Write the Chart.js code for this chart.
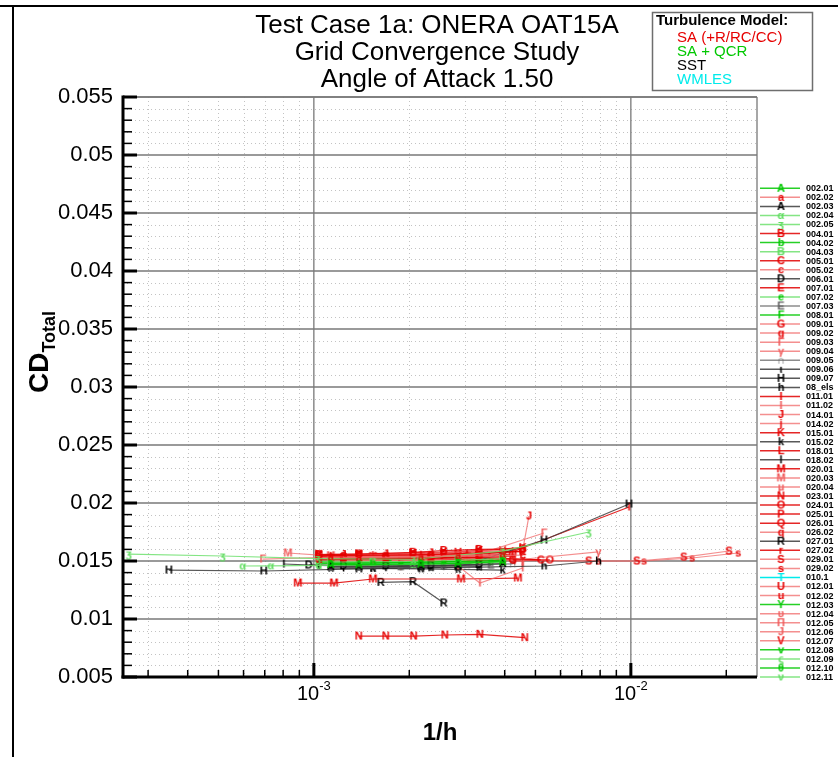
<!DOCTYPE html>
<html>
<head>
<meta charset="utf-8">
<title>Test Case 1a: ONERA OAT15A</title>
<script src="https://cdn.jsdelivr.net/npm/chart.js@4.4.1/dist/chart.umd.min.js"></script>
<style>
  html, body { margin: 0; padding: 0; background: #fff; }
  canvas { display: block; }
</style>
</head>
<body>
<canvas id="chart" width="838" height="757"></canvas>
<script>
var titleLines = ['Test Case 1a: ONERA OAT15A', 'Grid Convergence Study', 'Angle of Attack 1.50']
var modelNames = ['SA (+R/RC/CC)', 'SA + QCR', 'SST', 'WMLES']

// one entry per submission, same order as the legend on the right
var caseLabels = ['002.01','002.02','002.03','002.04','002.05','004.01','004.02','004.03','005.01','005.02',
  '006.01','007.01','007.02','007.03','008.01','009.01','009.02','009.03','009.04','009.05',
  '009.06','009.07','08_els','011.01','011.02','014.01','014.02','015.01','015.02','018.01',
  '018.02','020.01','020.03','020.04','023.01','024.01','025.01','026.01','026.02','027.01',
  '027.02','029.01','029.02','010.1','012.01','012.02','012.03','012.04','012.05','012.06',
  '012.07','012.08','012.09','012.10','012.11']
var caseLetters = ['A','a','A','α','ʒ','B','b','Β','C','c',
  'D','E','e','Ε','F','G','g','Γ','γ','∩',
  'ι','H','h','I','I','J','j','K','k','L',
  'l','M','M','μ','N','O','P','Q','q','R',
  'r','S','s','T','U','u','Y','υ','Π','J',
  'V','v','ς','θ','ν']
// 0 = SA, 1 = SA+QCR, 2 = SST, 3 = WMLES
var caseModels = [1,0,2,1,1,0,1,1,0,0,
  2,0,1,2,1,0,0,0,0,2,
  2,2,2,0,0,0,0,0,2,0,
  2,0,0,0,0,0,0,0,0,2,
  0,0,0,3,0,0,1,0,0,0,
  0,1,1,1,1]
// 0 = normal, 1 = pale line, 2 = pale line and pale letter
var caseTint = [0,1,0,2,2,0,0,2,0,1,
  0,0,1,2,0,1,1,2,2,2,
  0,0,0,0,2,1,1,0,0,0,
  0,0,2,2,0,0,0,0,1,0,
  0,1,1,0,1,1,0,2,2,2,
  1,0,2,0,2]

var invH = [
  [1.131e-3, 1.387e-3, 2.176e-3, 2.85e-3, 3.94e-3],
  [1.131e-3, 1.387e-3, 2.176e-3, 2.85e-3, 3.94e-3],
  [1.131e-3, 1.387e-3, 2.176e-3, 2.85e-3, 3.94e-3],
  [5.97e-4, 7.32e-4, 1.037e-3, 1.387e-3, 2.054e-3, 2.85e-3, 3.94e-3],
  [2.61e-4, 5.16e-4, 1.03e-3, 2.06e-3, 3.94e-3, 7.37e-3],
  [1.037e-3, 1.387e-3, 2.054e-3, 2.57e-3, 3.32e-3, 4.56e-3],
  [1.131e-3, 1.535e-3, 2.176e-3, 2.85e-3, 3.94e-3],
  [1.131e-3, 1.535e-3, 2.176e-3, 2.85e-3, 3.94e-3],
  [1.24e-3, 1.687e-3, 2.34e-3, 3.32e-3, 5.2e-3],
  [1.24e-3, 1.687e-3, 2.34e-3, 3.32e-3, 4.56e-3],
  [9.64e-4, 1.24e-3, 1.687e-3, 2.34e-3, 3.32e-3],
  [1.037e-3, 1.387e-3, 2.054e-3, 2.57e-3, 3.32e-3, 4.56e-3],
  [1.131e-3, 1.387e-3, 1.88e-3, 2.57e-3, 3.62e-3],
  [1.131e-3, 1.387e-3, 1.88e-3, 2.57e-3, 3.62e-3],
  [1.131e-3, 1.387e-3, 1.72e-3, 2.176e-3, 2.85e-3, 3.94e-3],
  [1.24e-3, 1.687e-3, 2.34e-3, 3.32e-3, 4.24e-3],
  [1.24e-3, 1.687e-3, 2.34e-3, 3.32e-3],
  [6.9e-4, 1.037e-3, 1.535e-3, 2.34e-3, 3.32e-3, 5.32e-3],
  [1.387e-3, 2.054e-3, 2.85e-3, 4.56e-3, 7.9e-3],
  [1.131e-3, 1.535e-3, 2.176e-3, 3.04e-3, 4.24e-3],
  [1.24e-3, 1.687e-3, 2.34e-3, 3.32e-3],
  [3.49e-4, 6.95e-4, 1.387e-3, 2.176e-3, 2.85e-3, 5.32e-3, 9.87e-3],
  [1.535e-3, 2.34e-3, 3.32e-3, 5.32e-3, 7.9e-3],
  [1.131e-3, 1.535e-3, 2.176e-3, 3.04e-3, 4.24e-3, 9.87e-3],
  [1.24e-3, 1.88e-3, 2.85e-3, 3.34e-3, 4.56e-3],
  [1.24e-3, 1.687e-3, 2.34e-3, 3.32e-3, 4.56e-3, 4.77e-3],
  [1.24e-3, 1.687e-3, 2.34e-3, 3.32e-3, 4.56e-3],
  [1.037e-3, 1.387e-3, 2.054e-3, 2.57e-3, 3.32e-3, 4.56e-3],
  [1.131e-3, 1.535e-3, 2.176e-3, 2.85e-3, 3.94e-3],
  [1.037e-3, 1.387e-3, 1.88e-3, 2.57e-3, 3.62e-3],
  [8.04e-4, 1.037e-3, 1.387e-3, 1.88e-3, 2.57e-3],
  [8.9e-4, 1.157e-3, 1.535e-3, 2.91e-3, 4.4e-3],
  [8.28e-4, 1.131e-3, 1.535e-3, 2.176e-3, 3.04e-3],
  [1.131e-3, 1.535e-3, 2.176e-3, 3.04e-3, 4.24e-3],
  [1.386e-3, 1.686e-3, 2.066e-3, 2.59e-3, 3.34e-3, 4.63e-3],
  [1.24e-3, 1.687e-3, 2.34e-3, 3.32e-3, 5.55e-3],
  [1.037e-3, 1.387e-3, 2.054e-3, 2.57e-3, 3.32e-3, 4.56e-3],
  [1.131e-3, 1.535e-3, 2.176e-3, 3.04e-3, 4.24e-3],
  [1.131e-3, 1.535e-3, 2.176e-3, 3.04e-3, 4.24e-3],
  [1.627e-3, 2.054e-3, 2.57e-3],
  [1.131e-3, 1.535e-3, 2.176e-3, 3.04e-3, 4.24e-3],
  [1.687e-3, 2.57e-3, 3.94e-3, 7.37e-3, 1.045e-2, 1.47e-2, 2.04e-2],
  [4.24e-3, 7.9e-3, 1.10e-2, 1.56e-2, 2.18e-2],
  [1.387e-3, 2.054e-3, 2.85e-3],
  [1.037e-3, 1.387e-3, 2.054e-3, 2.85e-3, 3.94e-3],
  [1.037e-3, 1.387e-3, 2.054e-3, 2.85e-3, 3.94e-3],
  [1.037e-3, 1.387e-3, 2.054e-3, 2.85e-3, 3.94e-3],
  [1.037e-3, 1.387e-3, 2.054e-3, 2.85e-3, 3.94e-3],
  [1.037e-3, 1.387e-3, 2.054e-3, 2.85e-3, 3.94e-3],
  [1.037e-3, 1.387e-3, 2.054e-3, 2.85e-3, 3.94e-3],
  [1.037e-3, 1.387e-3, 2.054e-3, 2.85e-3, 3.94e-3],
  [1.037e-3, 1.387e-3, 2.054e-3, 2.85e-3, 3.94e-3],
  [1.037e-3, 1.387e-3, 2.054e-3, 2.85e-3, 3.94e-3],
  [1.037e-3, 1.387e-3, 2.054e-3, 2.85e-3, 3.94e-3],
  [1.037e-3, 1.387e-3, 2.054e-3, 2.85e-3, 3.94e-3]
]

var cdTotal = [
  [0.01470, 0.01468, 0.01474, 0.01480, 0.01495],
  [0.01535, 0.01530, 0.01536, 0.01545, 0.01560],
  [0.01452, 0.01450, 0.01455, 0.01462, 0.01478],
  [0.01457, 0.01458, 0.01462, 0.01465, 0.01470, 0.01478, 0.01492],
  [0.01560, 0.01543, 0.01520, 0.01515, 0.01585, 0.01750],
  [0.01555, 0.01560, 0.01575, 0.01590, 0.01600, 0.01605],
  [0.01480, 0.01482, 0.01488, 0.01495, 0.01505],
  [0.01490, 0.01493, 0.01498, 0.01505, 0.01520],
  [0.01520, 0.01522, 0.01525, 0.01530, 0.01509],
  [0.01530, 0.01532, 0.01538, 0.01545, 0.01550],
  [0.01466, 0.01460, 0.01458, 0.01462, 0.01470],
  [0.01545, 0.01548, 0.01552, 0.01560, 0.01570, 0.01580],
  [0.01475, 0.01476, 0.01480, 0.01486, 0.01498],
  [0.01445, 0.01446, 0.01450, 0.01455, 0.01465],
  [0.01468, 0.01470, 0.01472, 0.01476, 0.01482, 0.01500],
  [0.01540, 0.01542, 0.01545, 0.01552, 0.01510],
  [0.01548, 0.01550, 0.01556, 0.01565],
  [0.01517, 0.01530, 0.01535, 0.01545, 0.01560, 0.01741],
  [0.01535, 0.01540, 0.01548, 0.01515, 0.01578],
  [0.01455, 0.01457, 0.01460, 0.01466, 0.01475],
  [0.01440, 0.01442, 0.01446, 0.01452],
  [0.01422, 0.01414, 0.01432, 0.01440, 0.01448, 0.01681, 0.01991],
  [0.01440, 0.01442, 0.01448, 0.01457, 0.01500],
  [0.01540, 0.01545, 0.01550, 0.01560, 0.01580, 0.01966],
  [0.01450, 0.01452, 0.01457, 0.01310, 0.01440],
  [0.01555, 0.01560, 0.01570, 0.01585, 0.01595, 0.01888],
  [0.01505, 0.01508, 0.01512, 0.01520, 0.01495],
  [0.01550, 0.01555, 0.01565, 0.01575, 0.01590, 0.01615],
  [0.01438, 0.01436, 0.01432, 0.01428, 0.01422],
  [0.01512, 0.01515, 0.01520, 0.01528, 0.01540],
  [0.01474, 0.01462, 0.01455, 0.01452, 0.01452],
  [0.01310, 0.01310, 0.01345, 0.01345, 0.01353],
  [0.01569, 0.01545, 0.01540, 0.01540, 0.01545],
  [0.01525, 0.01527, 0.01530, 0.01535, 0.01545],
  [0.00853, 0.00853, 0.00853, 0.00862, 0.00868, 0.00839],
  [0.01515, 0.01515, 0.01514, 0.01512, 0.01509],
  [0.01535, 0.01538, 0.01545, 0.01552, 0.01565, 0.01585],
  [0.01528, 0.01530, 0.01535, 0.01545, 0.01560],
  [0.01500, 0.01502, 0.01505, 0.01510, 0.01518],
  [0.01316, 0.01322, 0.01138],
  [0.01520, 0.01522, 0.01526, 0.01532, 0.01542],
  [0.01505, 0.01505, 0.01505, 0.01500, 0.01500, 0.01534, 0.01586],
  [0.01505, 0.01500, 0.01500, 0.01526, 0.01569],
  [0.01475, 0.01478, 0.01485],
  [0.01540, 0.01542, 0.01548, 0.01555, 0.01568],
  [0.01530, 0.01532, 0.01538, 0.01545, 0.01556],
  [0.01485, 0.01486, 0.01490, 0.01496, 0.01508],
  [0.01520, 0.01521, 0.01525, 0.01532, 0.01542],
  [0.01548, 0.01550, 0.01556, 0.01563, 0.01575],
  [0.01510, 0.01512, 0.01516, 0.01522, 0.01532],
  [0.01558, 0.01560, 0.01566, 0.01575, 0.01588],
  [0.01478, 0.01479, 0.01483, 0.01489, 0.01500],
  [0.01492, 0.01494, 0.01498, 0.01505, 0.01515],
  [0.01498, 0.01500, 0.01505, 0.01512, 0.01525],
  [0.01462, 0.01463, 0.01467, 0.01473, 0.01485]
]

var yTicks = [0.005, 0.01, 0.015, 0.02, 0.025, 0.03, 0.035, 0.04, 0.045, 0.05, 0.055]
var xMajorTicks = [1e-3, 1e-2]
var xMajorLabels = [['10', '-3'], ['10', '-2']]
var xMinorTicks = [3e-4, 4e-4, 5e-4, 6e-4, 7e-4, 8e-4, 9e-4,
  2e-3, 3e-3, 4e-3, 5e-3, 6e-3, 7e-3, 8e-3, 9e-3, 2e-2]

var FONT = '"Liberation Sans", Arial, Helvetica, sans-serif'

// letter colour / line colour for each model, normal and pale
var markerColors = [['rgb(230,0,0)', 'rgb(240,90,90)'], ['rgb(0,200,0)', 'rgb(95,220,95)'],
  ['rgb(0,0,0)', 'rgb(95,95,95)'], ['rgb(0,235,235)', 'rgb(0,235,235)']]
var lineColors = [['rgba(225,0,0,0.85)', 'rgba(240,105,105,0.75)'], ['rgba(0,200,0,0.85)', 'rgba(110,225,110,0.85)'],
  ['rgba(60,60,60,0.85)', 'rgba(120,120,120,0.85)'], ['rgb(0,235,235)', 'rgb(0,235,235)']]

function makeMarker(letter, color) {
  var c = document.createElement('canvas')
  c.width = 13
  c.height = 13
  var g = c.getContext('2d')
  g.font = 'bold 11px ' + FONT
  g.fillStyle = color
  g.textAlign = 'center'
  g.textBaseline = 'middle'
  g.fillText(letter, 6.5, 7)
  return c
}

var markers = []
var datasets = []
for (var i = 0; i < caseLabels.length; i++) {
  var m = caseModels[i]
  var lc = lineColors[m][caseTint[i] > 0 ? 1 : 0]
  var mc = markerColors[m][caseTint[i] > 1 ? 1 : 0]
  markers.push(makeMarker(caseLetters[i], mc))
  var pts = []
  for (var j = 0; j < invH[i].length; j++) {
    pts.push({ x: invH[i][j], y: cdTotal[i][j] })
  }
  datasets.push({
    label: caseLabels[i],
    data: pts,
    showLine: true,
    borderColor: lc,
    backgroundColor: lc,
    borderWidth: 1.2,
    pointStyle: markers[i],
    pointRadius: 5,
    tension: 0
  })
}

function line(ctx, x1, y1, x2, y2) {
  ctx.beginPath()
  ctx.moveTo(x1, y1)
  ctx.lineTo(x2, y2)
  ctx.stroke()
}

var decorations = {
  id: 'decorations',
  beforeDraw: function (chart) {
    var ctx = chart.ctx
    ctx.save()
    ctx.fillStyle = '#fff'
    ctx.fillRect(0, 0, chart.width, chart.height)
    // page frame
    ctx.strokeStyle = '#000'
    ctx.lineWidth = 2
    line(ctx, 0, 6, chart.width, 6)
    line(ctx, 13, 6, 13, chart.height)
    ctx.restore()
  },
  beforeDatasetsDraw: function (chart) {
    var ctx = chart.ctx
    var a = chart.chartArea
    var xs = chart.scales.x
    var ys = chart.scales.y
    ctx.save()
    // dotted minor grid
    ctx.strokeStyle = 'rgb(195,195,195)'
    ctx.lineWidth = 1
    ctx.setLineDash([1, 3])
    xMinorTicks.forEach(function (v) {
      var px = Math.round(xs.getPixelForValue(v)) + 0.5
      line(ctx, px, a.top, px, a.bottom)
    })
    for (var k = 0; k < yTicks.length - 1; k++) {
      for (var s = 1; s < 5; s++) {
        var py = Math.round(ys.getPixelForValue(yTicks[k] + s * 0.001)) + 0.5
        line(ctx, a.left, py, a.right, py)
      }
    }
    // solid major grid
    ctx.setLineDash([])
    ctx.strokeStyle = 'rgb(120,120,120)'
    ctx.lineWidth = 1.3
    xMajorTicks.forEach(function (v) {
      var px = xs.getPixelForValue(v)
      line(ctx, px, a.top, px, a.bottom)
    })
    yTicks.forEach(function (v) {
      var py = ys.getPixelForValue(v)
      line(ctx, a.left, py, a.right, py)
    })
    ctx.restore()
  },
  afterDatasetsDraw: function (chart) {
    var ctx = chart.ctx
    var a = chart.chartArea
    var xs = chart.scales.x
    var ys = chart.scales.y
    ctx.save()
    ctx.strokeStyle = 'rgb(120,120,120)'
    ctx.lineWidth = 1.3
    line(ctx, a.left, a.top, a.right, a.top)
    line(ctx, a.right, a.top, a.right, a.bottom)
    ctx.strokeStyle = '#000'
    // minor ticks, inward
    ctx.lineWidth = 1.5
    xMinorTicks.forEach(function (v) {
      var px = xs.getPixelForValue(v)
      line(ctx, px, a.bottom, px, a.bottom - 7)
    })
    for (var k = 0; k < yTicks.length - 1; k++) {
      for (var s = 1; s < 5; s++) {
        var py = ys.getPixelForValue(yTicks[k] + s * 0.001)
        line(ctx, a.left, py, a.left + 9, py)
      }
    }
    // major ticks
    ctx.lineWidth = 3
    xMajorTicks.forEach(function (v) {
      var px = xs.getPixelForValue(v)
      line(ctx, px, a.bottom, px, a.bottom - 14)
    })
    yTicks.forEach(function (v) {
      var py = ys.getPixelForValue(v)
      line(ctx, a.left, py, a.left + 14, py)
    })
    // axes
    line(ctx, a.left, a.top - 1.5, a.left, a.bottom + 1.5)
    line(ctx, a.left - 1.5, a.bottom, a.right, a.bottom)
    ctx.restore()
  },
  afterDraw: function (chart) {
    var ctx = chart.ctx
    var a = chart.chartArea
    var xs = chart.scales.x
    ctx.save()
    ctx.fillStyle = '#000'
    ctx.textBaseline = 'alphabetic'

    // title
    ctx.font = '26px ' + FONT
    ctx.textAlign = 'center'
    titleLines.forEach(function (t, i) {
      ctx.fillText(t, 437, 33 + i * 27)
    })

    // x tick labels 10^-n
    xMajorTicks.forEach(function (v, i) {
      var px = xs.getPixelForValue(v)
      ctx.font = '20px ' + FONT
      var w1 = ctx.measureText(xMajorLabels[i][0]).width
      ctx.font = '13px ' + FONT
      var w2 = ctx.measureText(xMajorLabels[i][1]).width
      var x0 = px - (w1 + w2) / 2
      ctx.textAlign = 'left'
      ctx.font = '20px ' + FONT
      ctx.fillText(xMajorLabels[i][0], x0, 700)
      ctx.font = '13px ' + FONT
      ctx.fillText(xMajorLabels[i][1], x0 + w1, 690)
    })

    // axis titles
    ctx.font = 'bold 24px ' + FONT
    ctx.textAlign = 'center'
    ctx.fillText('1/h', (a.left + a.right) / 2, 740)

    ctx.save()
    ctx.translate(48, 352)
    ctx.rotate(-Math.PI / 2)
    ctx.font = 'bold 28px ' + FONT
    var wcd = ctx.measureText('CD').width
    ctx.font = 'bold 18px ' + FONT
    var wsub = ctx.measureText('Total').width
    ctx.textAlign = 'left'
    ctx.font = 'bold 28px ' + FONT
    ctx.fillText('CD', -(wcd + wsub) / 2, 0)
    ctx.font = 'bold 18px ' + FONT
    ctx.fillText('Total', -(wcd + wsub) / 2 + wcd, 7)
    ctx.restore()

    // turbulence model box
    ctx.strokeStyle = 'rgb(110,110,110)'
    ctx.lineWidth = 1.5
    ctx.strokeRect(652.5, 12.5, 160, 78)
    ctx.textAlign = 'left'
    ctx.font = 'bold 15px ' + FONT
    ctx.fillStyle = '#000'
    ctx.fillText('Turbulence Model:', 656, 25)
    ctx.font = '15px ' + FONT
    modelNames.forEach(function (n, i) {
      ctx.fillStyle = markerColors[i][0]
      ctx.fillText(n, 677, 42 + i * 14)
    })

    // case legend on the right
    ctx.textBaseline = 'middle'
    ctx.font = 'bold 9px ' + FONT
    for (var i = 0; i < caseLabels.length; i++) {
      var yy = 188.3 + i * 9.05
      var m = caseModels[i]
      ctx.strokeStyle = lineColors[m][caseTint[i] > 0 ? 1 : 0]
      ctx.lineWidth = 1.5
      line(ctx, 760, yy, 800, yy)
      ctx.drawImage(markers[i], 781 - 6.5, yy - 6.5)
      ctx.fillStyle = '#000'
      ctx.fillText(caseLabels[i], 806, yy + 0.5)
    }
    ctx.restore()
  }
}

var ctx = document.getElementById('chart').getContext('2d')
var myChart = new Chart(ctx, {
  type: 'scatter',
  data: { datasets: datasets },
  options: {
    responsive: false,
    animation: false,
    layout: { padding: { top: 97, right: 81, left: 0, bottom: 0 } },
    plugins: {
      legend: { display: false },
      title: { display: false },
      tooltip: { enabled: false }
    },
    scales: {
      x: {
        type: 'logarithmic',
        min: 2.5e-4,
        max: 2.5e-2,
        grid: { display: false },
        border: { display: false },
        ticks: { display: false },
        afterBuildTicks: function (s) {
          s.ticks = xMajorTicks.map(function (v) { return { value: v } })
        },
        afterFit: function (s) { s.height = 80 }
      },
      y: {
        type: 'linear',
        min: 0.005,
        max: 0.055,
        grid: { display: false, drawTicks: false },
        border: { display: false },
        ticks: {
          color: '#000',
          padding: 10,
          font: { family: FONT, size: 22 },
          callback: function (v) { return String(parseFloat(v.toFixed(3))) }
        },
        afterBuildTicks: function (s) {
          s.ticks = yTicks.map(function (v) { return { value: v } })
        },
        afterFit: function (s) { s.width = 123 }
      }
    }
  },
  plugins: [decorations]
})
</script>
</body>
</html>
